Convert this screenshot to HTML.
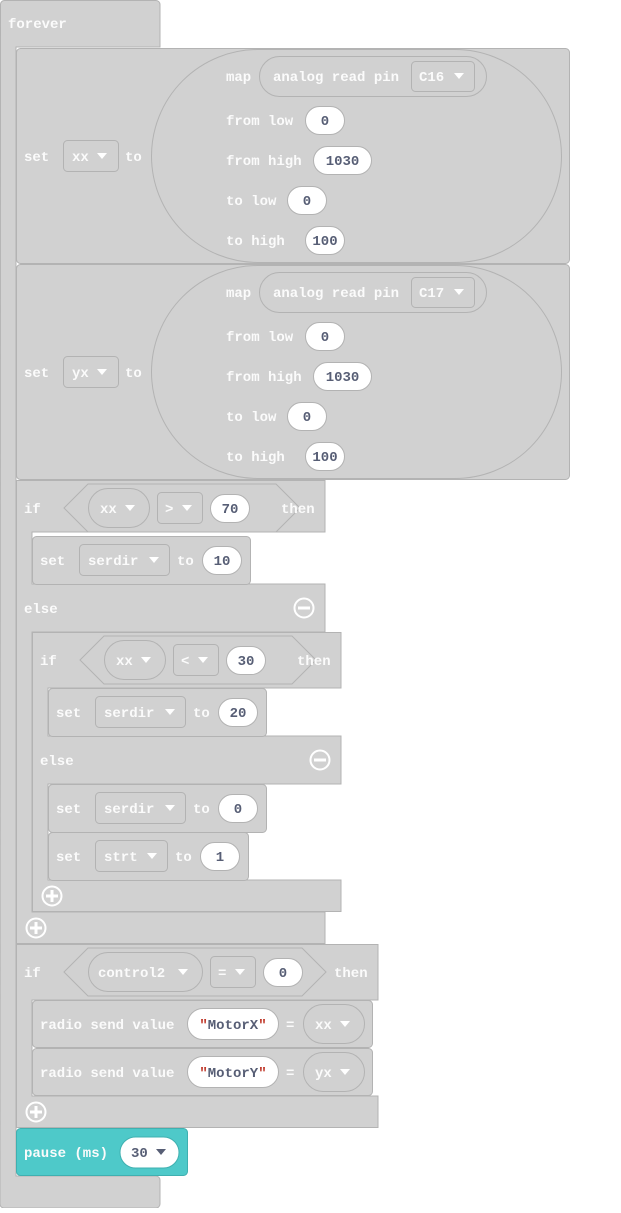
<!DOCTYPE html><html><head><meta charset="utf-8"><style>
html,body{margin:0;padding:0;background:#fff}
svg text{font-family:"Liberation Mono",monospace;font-weight:bold;font-size:14px}
.w{fill:#fbfbfb}.d{fill:#575e75;text-anchor:middle}
.b{fill:#d1d1d1;stroke:#b3b3b3;stroke-width:1}
.o{fill:#fff;stroke:#b3b3b3}
.dd{fill:#d1d1d1;stroke:#b3b3b3}
.t{fill:#fff}
</style></head><body>
<svg width="621" height="1208" xmlns="http://www.w3.org/2000/svg">
<defs><path id="tri" d="M0,0 H10 L5,6 Z"/></defs>
<!-- forever -->
<path class="b" d="M0.5,4 a4,4 0 0 1 4,-3.5 H156 a4,4 0 0 1 4,4 V47 H16 V1176 H156 a4,4 0 0 1 4,4 V1204 a4,4 0 0 1 -4,4 H4 a4,4 0 0 1 -4,-4 Z"/>
<text x="8" y="28" class="w">forever</text>

<g>
<rect class="b" x="16.5" y="48.5" width="553" height="215" rx="4"/>
<rect class="b" x="151.5" y="49.5" width="410" height="213" rx="106.5"/>
<text x="24" y="161" class="w">set</text>
<rect class="dd" x="63.5" y="140.5" width="55" height="31" rx="4"/><text x="72" y="161" class="w">xx</text><use href="#tri" x="97" y="153" class="t"/>
<text x="125" y="161" class="w">to</text>
<text x="226" y="81" class="w">map</text>
<rect class="b" x="259.5" y="56.5" width="227" height="40" rx="20"/>
<text x="273" y="81" class="w">analog read pin</text>
<rect class="dd" x="411.5" y="61.5" width="63" height="30" rx="4"/><text x="419" y="81" class="w">C16</text><use href="#tri" x="454" y="73" class="t"/>
<text x="226" y="125" class="w">from low</text><rect class="o" x="305.5" y="106.5" width="39" height="28" rx="14"/><text x="325" y="125" class="d">0</text>
<text x="226" y="165" class="w">from high</text><rect class="o" x="313.5" y="146.5" width="58" height="28" rx="14"/><text x="342.5" y="165" class="d">1030</text>
<text x="226" y="205" class="w">to low</text><rect class="o" x="287.5" y="186.5" width="39" height="28" rx="14"/><text x="307" y="205" class="d">0</text>
<text x="226" y="245" class="w">to high</text><rect class="o" x="305.5" y="226.5" width="39" height="28" rx="14"/><text x="325" y="245" class="d">100</text>
</g>
<g transform="translate(0,216)">
<rect class="b" x="16.5" y="48.5" width="553" height="215" rx="4"/>
<rect class="b" x="151.5" y="49.5" width="410" height="213" rx="106.5"/>
<text x="24" y="161" class="w">set</text>
<rect class="dd" x="63.5" y="140.5" width="55" height="31" rx="4"/><text x="72" y="161" class="w">yx</text><use href="#tri" x="97" y="153" class="t"/>
<text x="125" y="161" class="w">to</text>
<text x="226" y="81" class="w">map</text>
<rect class="b" x="259.5" y="56.5" width="227" height="40" rx="20"/>
<text x="273" y="81" class="w">analog read pin</text>
<rect class="dd" x="411.5" y="61.5" width="63" height="30" rx="4"/><text x="419" y="81" class="w">C17</text><use href="#tri" x="454" y="73" class="t"/>
<text x="226" y="125" class="w">from low</text><rect class="o" x="305.5" y="106.5" width="39" height="28" rx="14"/><text x="325" y="125" class="d">0</text>
<text x="226" y="165" class="w">from high</text><rect class="o" x="313.5" y="146.5" width="58" height="28" rx="14"/><text x="342.5" y="165" class="d">1030</text>
<text x="226" y="205" class="w">to low</text><rect class="o" x="287.5" y="186.5" width="39" height="28" rx="14"/><text x="307" y="205" class="d">0</text>
<text x="226" y="245" class="w">to high</text><rect class="o" x="305.5" y="226.5" width="39" height="28" rx="14"/><text x="325" y="245" class="d">100</text>
</g>

<path class="b" d="M16.5,480.5 H325 V532 H32 V584 H325 V632 H32 V912 H325 V943.5 H16.5 Z"/>
<text x="24" y="513" class="w">if</text>
<polygon class="b" points="64,508 88,484 276,484 300,508 276,532 88,532"/>
<rect class="b" x="88.5" y="488.5" width="61" height="39" rx="19.5"/><text x="100" y="513" class="w">xx</text><use href="#tri" x="125" y="505" class="t"/>
<rect class="dd" x="157.5" y="492.5" width="45" height="31" rx="4"/><text x="165" y="513" class="w">&gt;</text><use href="#tri" x="182" y="505" class="t"/>
<rect class="o" x="210.5" y="494.5" width="39" height="28" rx="14"/><text x="230" y="513" class="d">70</text>
<text x="281" y="513" class="w">then</text>
<rect class="b" x="32.5" y="536.5" width="218" height="48" rx="4"/>
<text x="40" y="565" class="w">set</text>
<rect class="dd" x="79.5" y="544.5" width="90" height="31" rx="4"/><text x="88" y="565" class="w">serdir</text><use href="#tri" x="149" y="557" class="t"/>
<text x="177" y="565" class="w">to</text>
<rect class="o" x="202.5" y="546.5" width="39" height="28" rx="14"/><text x="222" y="565" class="d">10</text>
<text x="24" y="613" class="w">else</text>
<circle cx="304" cy="608" r="9.5" fill="none" stroke="#fff" stroke-width="2"/><rect x="298" y="606.5" width="12" height="3" fill="#fff"/>
<circle cx="36" cy="928" r="9.5" fill="none" stroke="#fff" stroke-width="2"/><rect x="30" y="926.5" width="12" height="3" fill="#fff"/><rect x="34.5" y="922" width="3" height="12" fill="#fff"/>

<path class="b" d="M32.5,632.5 H341 V688 H48 V736 H341 V784 H48 V880 H341 V911.5 H32.5 Z"/>
<text x="40" y="665" class="w">if</text>
<polygon class="b" points="80,660 104,636 292,636 316,660 292,684 104,684"/>
<rect class="b" x="104.5" y="640.5" width="61" height="39" rx="19.5"/><text x="116" y="665" class="w">xx</text><use href="#tri" x="141" y="657" class="t"/>
<rect class="dd" x="173.5" y="644.5" width="45" height="31" rx="4"/><text x="181" y="665" class="w">&lt;</text><use href="#tri" x="198" y="657" class="t"/>
<rect class="o" x="226.5" y="646.5" width="39" height="28" rx="14"/><text x="246" y="665" class="d">30</text>
<text x="297" y="665" class="w">then</text>
<rect class="b" x="48.5" y="688.5" width="218" height="48" rx="4"/>
<text x="56" y="717" class="w">set</text>
<rect class="dd" x="95.5" y="696.5" width="90" height="31" rx="4"/><text x="104" y="717" class="w">serdir</text><use href="#tri" x="165" y="709" class="t"/>
<text x="193" y="717" class="w">to</text>
<rect class="o" x="218.5" y="698.5" width="39" height="28" rx="14"/><text x="238" y="717" class="d">20</text>
<text x="40" y="765" class="w">else</text>
<circle cx="320" cy="760" r="9.5" fill="none" stroke="#fff" stroke-width="2"/><rect x="314" y="758.5" width="12" height="3" fill="#fff"/>
<rect class="b" x="48.5" y="784.5" width="218" height="48" rx="4"/>
<text x="56" y="813" class="w">set</text>
<rect class="dd" x="95.5" y="792.5" width="90" height="31" rx="4"/><text x="104" y="813" class="w">serdir</text><use href="#tri" x="165" y="805" class="t"/>
<text x="193" y="813" class="w">to</text>
<rect class="o" x="218.5" y="794.5" width="39" height="28" rx="14"/><text x="238" y="813" class="d">0</text>
<rect class="b" x="48.5" y="832.5" width="200" height="48" rx="4"/>
<text x="56" y="861" class="w">set</text>
<rect class="dd" x="95.5" y="840.5" width="72" height="31" rx="4"/><text x="104" y="861" class="w">strt</text><use href="#tri" x="147" y="853" class="t"/>
<text x="175" y="861" class="w">to</text>
<rect class="o" x="200.5" y="842.5" width="39" height="28" rx="14"/><text x="220" y="861" class="d">1</text>
<circle cx="52" cy="896" r="9.5" fill="none" stroke="#fff" stroke-width="2"/><rect x="46" y="894.5" width="12" height="3" fill="#fff"/><rect x="50.5" y="890" width="3" height="12" fill="#fff"/>

<path class="b" d="M16.5,944.5 H378 V1000 H32 V1096 H378 V1127.5 H16.5 Z"/>
<text x="24" y="977" class="w">if</text>
<polygon class="b" points="64,972 88,948 302,948 326,972 302,996 88,996"/>
<rect class="b" x="88.5" y="952.5" width="114" height="39" rx="19.5"/><text x="98" y="977" class="w">control2</text><use href="#tri" x="178" y="969" class="t"/>
<rect class="dd" x="210.5" y="956.5" width="45" height="31" rx="4"/><text x="218" y="977" class="w">=</text><use href="#tri" x="235" y="969" class="t"/>
<rect class="o" x="263.5" y="958.5" width="39" height="28" rx="14"/><text x="283" y="977" class="d">0</text>
<text x="334" y="977" class="w">then</text>
<rect class="b" x="32.5" y="1000.5" width="340" height="47" rx="4"/>
<text x="40" y="1029" class="w">radio send value</text>
<rect class="o" x="187.5" y="1008.5" width="91" height="31" rx="15.5"/><text x="233" y="1029" class="d"><tspan fill="#c0392b">"</tspan>MotorX<tspan fill="#c0392b">"</tspan></text>
<text x="286" y="1029" class="w">=</text>
<rect class="b" x="303.5" y="1004.5" width="61" height="39" rx="19.5"/><text x="315" y="1029" class="w">xx</text><use href="#tri" x="340" y="1021" class="t"/>
<rect class="b" x="32.5" y="1048.5" width="340" height="47" rx="4"/>
<text x="40" y="1077" class="w">radio send value</text>
<rect class="o" x="187.5" y="1056.5" width="91" height="31" rx="15.5"/><text x="233" y="1077" class="d"><tspan fill="#c0392b">"</tspan>MotorY<tspan fill="#c0392b">"</tspan></text>
<text x="286" y="1077" class="w">=</text>
<rect class="b" x="303.5" y="1052.5" width="61" height="39" rx="19.5"/><text x="315" y="1077" class="w">yx</text><use href="#tri" x="340" y="1069" class="t"/>
<circle cx="36" cy="1112" r="9.5" fill="none" stroke="#fff" stroke-width="2"/><rect x="30" y="1110.5" width="12" height="3" fill="#fff"/><rect x="34.5" y="1106" width="3" height="12" fill="#fff"/>

<rect x="16.5" y="1128.5" width="171" height="47" rx="4" fill="#4ec9c9" stroke="#3fb0b0"/>
<text x="24" y="1157" class="w">pause (ms)</text>
<rect x="120" y="1137" width="59" height="31" rx="15.5" fill="#fff" stroke="#3fb0b0"/>
<text x="131" y="1157" style="fill:#575e75">30</text><use href="#tri" x="156" y="1149" fill="#575e75"/>
</svg>
</body></html>
